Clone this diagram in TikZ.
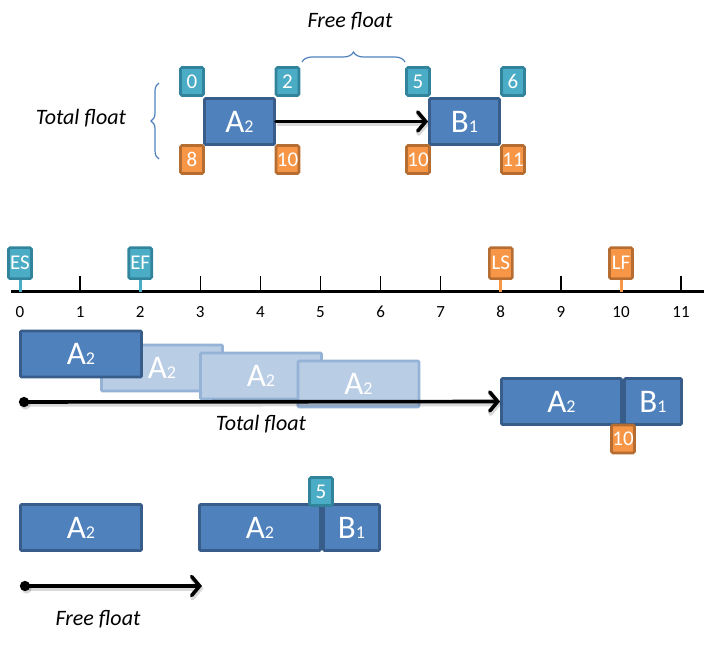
\documentclass[tikz,border=0pt]{standalone}
\usepackage{fontspec}
\setmainfont{Carlito}
\usepackage{tikz}
\usetikzlibrary{arrows.meta,decorations.pathreplacing,positioning}

\definecolor{taskfill}{HTML}{4F81BD}
\definecolor{taskedge}{HTML}{385D8A}
\definecolor{ghostfill}{HTML}{B9CDE5}
\definecolor{ghostedge}{HTML}{95B3D7}
\definecolor{earlyfill}{HTML}{4BACC6}
\definecolor{earlyedge}{HTML}{31849B}
\definecolor{latefill}{HTML}{F79646}
\definecolor{lateedge}{HTML}{B66D31}

\newcommand{\act}[2]{#1{\fontsize{18}{18}\selectfont #2}}

\tikzset{
  task/.style={draw=taskedge, fill=taskfill, line width=2.8pt, rounded corners=1pt,
    minimum width=121pt, minimum height=46pt, inner sep=0pt, text=white,
    font=\fontsize{33}{33}\selectfont},
  ghost/.style={task, draw=ghostedge, fill=ghostfill},
  early/.style={draw=earlyedge, fill=earlyfill, line width=2.6pt, rounded corners=1.5pt,
    minimum width=23pt, minimum height=28pt, inner sep=0pt, text=white,
    font=\fontsize{21}{21}\selectfont},
  late/.style={early, draw=lateedge, fill=latefill},
  link/.style={line width=3.6pt, line cap=round,
    -{Straight Barb[length=8pt, width=19pt, line cap=round]},
    preaction={draw=black, opacity=0.15, line width=4.5pt,
      transform canvas={shift={(1.5pt,-2.5pt)}}}},
  stem/.style={line width=3pt},
  bracket/.style={draw=taskfill, line width=1.2pt, decorate},
  note/.style={font=\fontsize{22}{22}\selectfont\itshape},
}

\begin{document}
\begin{tikzpicture}[x=1pt, y=-1pt]
\useasboundingbox (0,0) rectangle (710,647);

% network view
\node[task, minimum width=70pt] (topA) at (239.5,121.5) {\act{A}{2}};
\node[task, minimum width=70pt] (topB) at (464.5,121.5) {\act{B}{1}};
\node[early] (topAes) at (192,81.5) {0};
\node[early] (topAef) at (287.5,81.5) {2};
\node[early] (topBes) at (418,81.5) {5};
\node[early] (topBef) at (513,81.5) {6};
\node[late] (topAls) at (192,159.5) {8};
\node[late] (topAlf) at (287.5,159.5) {10};
\node[late] (topBls) at (418,159.5) {10};
\node[late] (topBlf) at (513,159.5) {11};
\draw[link] (topA) -- (topB);

\draw[bracket, decoration={brace, amplitude=10pt, aspect=0.5}] (302,62) -- (405,62);
\node[note] (freetop) at (350,21) {Free float};
\draw[bracket, decoration={brace, amplitude=8pt}] (159,159) -- (159,83);
\node[note] (totaltop) at (81,118) {Total float};

% time scale
\draw[line width=3pt] (11,292) -- (704,292);
\foreach \t in {0,...,11} {
  \coordinate (t\t) at (20+60.1*\t,292);
  \node[font=\fontsize{17}{17}\selectfont] (lab\t) at (20+60.1*\t,312) {\t};
}
\foreach \t in {1,3,4,5,6,7,9,11}
  \draw[line width=1.5pt] (20+60.1*\t,276) -- (t\t);

\node[early, minimum height=31pt, above=12pt of t0] (es) {ES};
\node[early, minimum height=31pt, above=12pt of t2] (ef) {EF};
\node[late, minimum height=31pt, above=12pt of t8] (ls) {LS};
\node[late, minimum height=31pt, above=12pt of t10] (lf) {LF};
\draw[stem, earlyfill] (es) -- (t0);
\draw[stem, earlyfill] (ef) -- (t2);
\draw[stem, latefill] (ls) -- (t8);
\draw[stem, latefill] (lf) -- (t10);

% sliding A within total float
\node[ghost] (slideA) at (162,368) {\act{A}{2}};
\node[ghost] (slideB) at (261,376) {\act{A}{2}};
\node[ghost] (slideC) at (358.5,384) {\act{A}{2}};
\node[task] (earlyA) at (81,354) {\act{A}{2}};
\node[task, minimum width=120pt] (lateA) at (561.5,401.5) {\act{A}{2}};
\node[task, minimum width=57pt] (lateB) at (653,401.5) {\act{B}{1}};
\node[late] (lateAlf) at (623,439) {10};
\coordinate (totalstart) at (19,402);
\draw[link, {Circle[length=10pt]}-{Straight Barb[length=8pt, width=19pt, line cap=round]}] (totalstart) -- (lateA.west);
\node[note] (totallow) at (261,424) {Total float};

% free float
\node[task] (freeA) at (81,527.5) {\act{A}{2}};
\node[task] (nextA) at (260,527.5) {\act{A}{2}};
\node[task, minimum width=56pt] (nextB) at (351.5,527.5) {\act{B}{1}};
\node[early] (nextBes) at (321,491.5) {5};
\coordinate (freestart) at (20,586);
\coordinate (freeend) at (202,586);
\draw[link, {Circle[length=10pt]}-{Straight Barb[length=8pt, width=19pt, line cap=round]}] (freestart) -- (freeend);
\node[note] (freelow) at (98,619) {Free float};
\end{tikzpicture}
\end{document}
